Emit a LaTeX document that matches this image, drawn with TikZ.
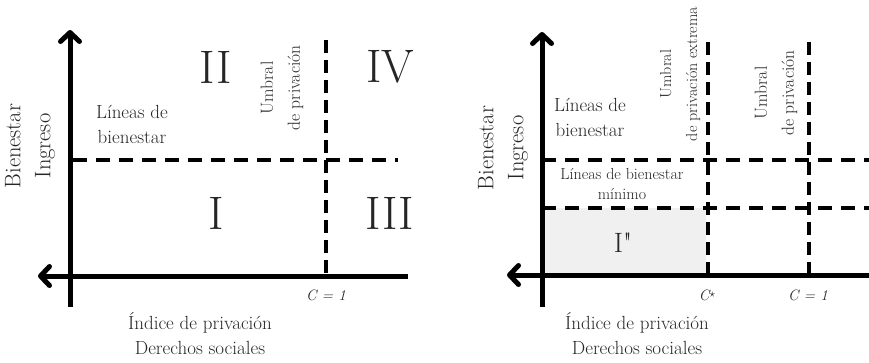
\documentclass[tikz,border=0pt]{standalone}
\usetikzlibrary{arrows.meta}
\begin{document}
\begin{tikzpicture}[x=1pt,y=-1pt,
  axis/.style={line width=5pt},
  axisarrow/.style={line width=5pt,-{Straight Barb[length=9pt,width=19pt,line cap=round,line join=round]}},
  dline/.style={line width=4pt,dash pattern=on 14pt off 9pt},
  vdline/.style={line width=4pt,dash pattern=on 13pt off 7pt},
  txt/.style={inner sep=0pt,align=center,text=black!85},
  lab/.style={txt,font=\fontsize{19}{25}\selectfont},
  small/.style={txt,font=\fontsize{16}{20}\selectfont},
  ylab/.style={txt,rotate=90,font=\fontsize{22.5}{30}\selectfont},
  vlab/.style={txt,rotate=90,font=\fontsize{17.5}{27}\selectfont},
  roman/.style={txt,font=\fontsize{47}{52}\selectfont},
  cval/.style={txt,font=\fontsize{15}{16}\selectfont\itshape}
]
\useasboundingbox (0,0) rectangle (869,362);
% ---------- left panel ----------
\coordinate (Ltop) at (70,30);
\coordinate (Lbot) at (70,307);
\coordinate (Lleft) at (38,276);
\coordinate (Lright) at (408,276);
\coordinate (Lh1a) at (73,160);
\coordinate (Lh1b) at (398,160);
\coordinate (Lv1a) at (326,40);
\coordinate (Lv1b) at (326,276);
\draw[dline] (Lh1a) -- (Lh1b);
\draw[vdline] (Lv1a) -- (Lv1b);
\draw[axisarrow] (Lbot) -- (Ltop);
\draw[axis] (Lright) -- (54,276);
\draw[axisarrow] (54,276) -- (Lleft);
\node[roman] (LII) at (216,67) {II};
\node[roman] (LIV) at (390,67) {IV};
\node[roman] (LI) at (216,213) {I};
\node[roman] (LIII) at (390,213) {III};
\node[lab] (Llineas) at (132,124) {Líneas de\\bienestar};
\node[vlab] (Lumbral) at (282,88) {Umbral\\de privación};
\node[ylab] (Ly) at (30,146) {Bienestar\\Ingreso};
\node[cval] (Lc) at (326,295) {C = 1};
\node[lab] (Lx) at (200,334) {Índice de privación\\Derechos sociales};
% ---------- right panel ----------
\coordinate (Rtop) at (542,32);
\coordinate (Rbot) at (542,307);
\coordinate (Rleft) at (507,275);
\coordinate (Rright) at (869,275);
\fill[gray!12] (545,208) rectangle (706,273);
\draw[dline] (542,160) -- (869,160);
\draw[dline] (542,208) -- (869,208);
\draw[vdline] (708,42) -- (708,275);
\draw[vdline] (809,42) -- (809,275);
\draw[axisarrow] (Rbot) -- (Rtop);
\draw[axis] (Rright) -- (523,275);
\draw[axisarrow] (523,275) -- (Rleft);
\node[lab] (Rlineas) at (590,117) {Líneas de\\bienestar};
\node[small] (Rmin) at (622,184) {Líneas de bienestar\\mínimo};
\node[vlab,font=\fontsize{16}{26}\selectfont] (Rumbral1) at (680,74) {Umbral\\de privación extrema};
\node[vlab] (Rumbral2) at (776,93) {Umbral\\de privación};
\node[ylab] (Ry) at (503,148) {Bienestar\\Ingreso};
\node[txt,font=\fontsize{28}{32}\selectfont] (RI) at (623,243) {I\textquotedbl};
\node[cval] (Rcs) at (707,295) {C\raisebox{3pt}{\fontsize{12}{12}\selectfont$\star$}};
\node[cval] (Rc) at (808,295) {C = 1};
\node[lab] (Rx) at (637,334) {Índice de privación\\Derechos sociales};
\end{tikzpicture}
\end{document}
